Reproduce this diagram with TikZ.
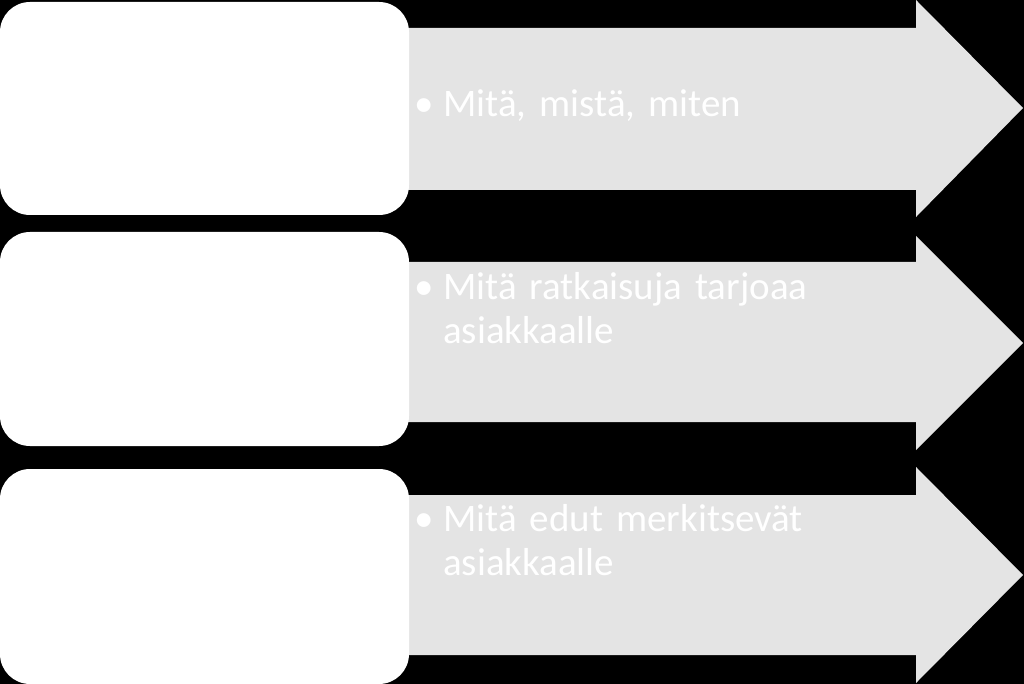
\documentclass[tikz,border=0pt]{standalone}
\usepackage{fontspec}
\setmainfont{Carlito}
\definecolor{arrowgray}{HTML}{E4E4E4}

\begin{document}
\begin{tikzpicture}[x=1pt,y=-1pt]
\fill[black] (0,0) rectangle (1024,684);
\useasboundingbox (0,0) rectangle (1024,684);

\begin{scope}[every path/.style={fill=arrowgray}]
    \path (380,28) -- (916,28) -- (916,0) -- (1023,108) -- (916,217) -- (916,190) -- (380,190) -- cycle;
    \path (380,262) -- (916,262) -- (916,236) -- (1023,343) -- (916,450) -- (916,422) -- (380,422) -- cycle;
    \path (380,495) -- (916,495) -- (916,467) -- (1023,575) -- (916,683) -- (916,655) -- (380,655) -- cycle;
\end{scope}

\begin{scope}[every node/.style={fill=white,rounded corners=30pt,minimum width=409pt,inner sep=0}]
    \node[minimum height=213pt] (p1) at (204.5,108.5) {};
    \node[minimum height=214pt] (p2) at (204.5,339) {};
    \node[minimum height=215pt] (p3) at (204.5,576.5) {};
\end{scope}

\begin{scope}[every node/.style={text=white,anchor=base west,inner sep=0,
              font=\fontsize{39}{44}\selectfont,text width=400pt,align=left}]
    \node (b1) at (414,117) {•};
    \node (t1) at (443,117) {Mitä, mistä, miten};
    \node (b2) at (414,299) {•};
    \node (t2) at (443,299) {Mitä ratkaisuja tarjoaa\\asiakkaalle};
    \node (b3) at (414,531) {•};
    \node (t3) at (443,531) {Mitä edut merkitsevät\\asiakkaalle};
\end{scope}
\end{tikzpicture}
\end{document}
